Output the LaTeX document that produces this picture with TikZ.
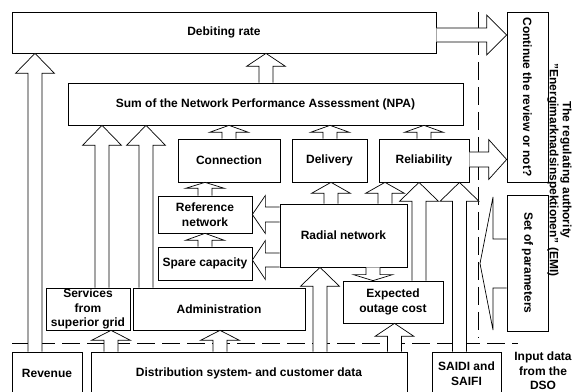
\documentclass[tikz,border=0pt]{standalone}
\usepackage{fontspec}
\setmainfont{Liberation Sans}
\usetikzlibrary{calc}
% box from pixel corners (x1,y1)-(x2,y2), y measured downward from the top
\newcommand\mybox[7][]{%
  \node[box,#1,minimum width={#5-#3},minimum height={#6-#4}] (#2) at ({(#3+#5)/2},{391-(#4+#6)/2}) {#7};}
% vertical block arrow: x centre (px), from node anchor, to node anchor, signed head length
\newcommand\blkv[4]{%
  \draw[blk] let \p1=(#2), \p2=(#3) in
   ({#1-7},\y1) -- ({#1-7},{\y2-(#4pt)}) -- ({#1-19.5},{\y2-(#4pt)}) -- ({#1},\y2)
   -- ({#1+19.5},{\y2-(#4pt)}) -- ({#1+7},{\y2-(#4pt)}) -- ({#1+7},\y1);}
% horizontal block arrow: y centre (px), from, to, signed head length, shaft half, head half
\newcommand\blkh[6]{%
  \draw[blk] let \p1=(#2), \p2=(#3) in
   (\x1,{391-(#1)+(#5)}) -- ({\x2-(#4pt)},{391-(#1)+(#5)}) -- ({\x2-(#4pt)},{391-(#1)+(#6)})
   -- (\x2,{391-(#1)}) -- ({\x2-(#4pt)},{391-(#1)-(#6)}) -- ({\x2-(#4pt)},{391-(#1)-(#5)})
   -- (\x1,{391-(#1)-(#5)});}
\begin{document}
\begin{tikzpicture}[x=1pt,y=1pt,
  box/.style={draw,fill=white,line width=0.7pt,inner sep=0pt,align=center,
    font=\bfseries\fontsize{12}{14.5}\selectfont},
  lbl/.style={inner sep=0pt,align=center,font=\bfseries\fontsize{12}{15}\selectfont},
  blk/.style={draw,fill=white,line width=0.7pt,line join=miter},
  sepline/.style={line width=0.7pt,dash pattern=on 18pt off 7pt}]
\useasboundingbox (0,0) rectangle (573,391);

% separators
\coordinate (h1) at (12,{391-343});
\coordinate (h2) at (518,{391-343});
\coordinate (v1) at (478,{391-12});
\coordinate (v2) at (478,{391-338});
\draw[sepline] (h1) -- (h2);
\draw[sepline] (v1) -- (v2);

% boxes
\mybox{deb}{12}{12}{436}{53}{Debiting rate}
\node[box,rotate=-90,minimum width=170,minimum height=41] (cont) at (527.5,{391-97}) {Continue the review or not?};
\mybox{npa}{68}{83}{463}{125}{Sum of the Network Performance Assessment (NPA)}
\mybox{conn}{178}{139}{280}{182}{Connection}
\mybox{deliv}{292}{139}{367}{182}{Delivery}
\mybox{rel}{379}{139}{469}{182}{Reliability}
\mybox{ref}{158}{196}{252}{233}{Reference\\network}
\mybox{spare}{158}{247}{252}{280}{Spare capacity}
\mybox{radial}{280}{204}{407}{267}{Radial network}
\mybox{eoc}{343}{281}{443}{323}{Expected\\outage cost}
\mybox{svc}{46}{288}{130}{330}{Services\\from\\superior grid}
\mybox{admin}{133}{288}{305}{330}{Administration}
\node[box,rotate=-90,minimum width=136,minimum height=41] (param) at (527.5,{391-263}) {Set of parameters};
\mybox{rev}{12}{352}{82}{395}{Revenue}
\mybox{dist}{91}{352}{407}{395}{Distribution system- and customer data}
\mybox{saidi}{432}{352}{501}{395}{SAIDI and\\SAIFI}

% labels
\node[lbl,font=\bfseries\fontsize{12}{14.5}\selectfont] (input) at (543,{391-371}) {Input data\\from the\\DSO};
\node[lbl,rotate=-90,font=\bfseries\fontsize{12}{13}\selectfont] (emi) at (559.5,{391-170})
  {The regulating authority\\"Energimarknadsinspektionen" (EMI)};

% vertical block arrows
\blkv{35}{rev.north}{deb.south}{20}
\blkv{102}{svc.north}{npa.south}{20}
\blkv{146}{admin.north}{npa.south}{20}
\blkv{266}{npa.north}{deb.south}{13}
\blkv{229}{conn.north}{npa.south}{7}
\blkv{330}{deliv.north}{npa.south}{7}
\blkv{424}{rel.north}{npa.south}{7}
\blkv{205}{ref.north}{conn.south}{6}
\blkv{205}{spare.north}{ref.south}{7}
\blkv{331}{radial.north}{deliv.south}{11}
\blkv{385}{radial.north}{rel.south}{11}
\blkv{111}{dist.north}{svc.south}{10}
\blkv{220}{dist.north}{admin.south}{10}
\blkv{320}{dist.north}{radial.south}{19}
\blkv{394.5}{dist.north}{eoc.south}{13}
\blkv{419}{eoc.north}{rel.south}{19}
\blkv{459.5}{saidi.north}{rel.south}{19}
\blkv{373}{radial.south}{eoc.north}{-6}

% horizontal block arrows
\blkh{35}{deb.east}{cont.south}{20}{7}{20}
\blkh{159.5}{rel.east}{cont.south}{18}{7.5}{20}
\blkh{214.5}{radial.west}{ref.east}{-13}{7.5}{19}
\blkh{260}{radial.west}{spare.east}{-13}{7}{19.5}
\coordinate (ptip) at (480,{391-263.5});
\blkh{263.5}{param.south}{ptip}{-13}{24.5}{66.5}
\end{tikzpicture}
\end{document}
